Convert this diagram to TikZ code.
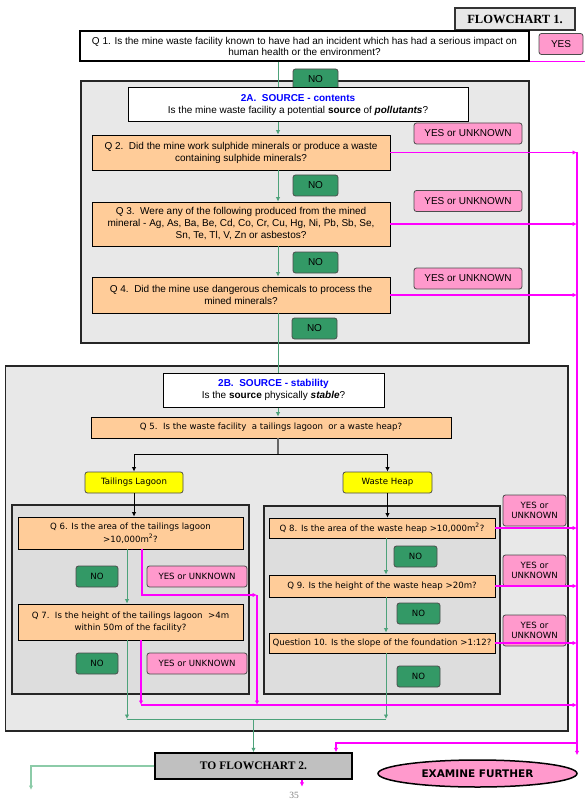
\documentclass[tikz,border=0pt]{standalone}
\usepackage{fontspec}
\setmainfont{Liberation Sans}
\newfontfamily\tahoma{DejaVu Sans}
\newfontfamily\tnr{Liberation Serif}
\usetikzlibrary{arrows.meta,shapes.geometric}
\definecolor{secgray}{HTML}{E8E8E8}
\definecolor{subgray}{HTML}{DDDDDD}
\definecolor{qorange}{HTML}{FFCC99}
\definecolor{ypink}{HTML}{FF99CC}
\definecolor{nogreen}{HTML}{339966}
\definecolor{gline}{HTML}{4DA27A}
\definecolor{lgline}{HTML}{8CCBA8}
\definecolor{fcgray}{HTML}{C0C0C0}
\definecolor{hotmag}{RGB}{255,0,255}
\definecolor{lemon}{RGB}{255,255,0}
\definecolor{titleblue}{RGB}{0,0,255}
\newcommand{\tobus}[1]{\draw[mag,->] (#1.east) -- (#1.east -| bus);}
\newcommand{\godown}[3]{\draw[go,->] (#1.south -| #3) -- (#2.north -| #3);}

\begin{document}
\begin{tikzpicture}[x=1pt,y=-1pt,>={Latex[length=4.5pt,width=4.5pt]},
  every node/.style={align=center,inner sep=0pt,font=\fontsize{10}{12}\selectfont},
  sect/.style={draw=black!85,fill=secgray,line width=1.6pt},
  subsect/.style={draw=black!85,fill=subgray,line width=1.6pt},
  head/.style={draw=black,fill=white,line width=1pt},
  ques/.style={draw=black,fill=qorange,line width=0.8pt},
  nobox/.style={draw=black!70,fill=nogreen,rounded corners=2.5pt,line width=0.8pt,minimum width=45pt,minimum height=21pt},
  yubox/.style={draw=black!70,fill=ypink,rounded corners=2.5pt,line width=0.8pt,minimum width=108pt,minimum height=21pt},
  choice/.style={draw=black!70,fill=lemon,rounded corners=2.5pt,line width=0.8pt,minimum height=21pt},
  go/.style={draw=gline,line width=1pt},
  mag/.style={draw=hotmag,line width=1.2pt}]
  \useasboundingbox (0,0) rectangle (585,802);
  \draw[sect] (81,81) rectangle (529,343);
  \draw[sect] (5.6,366) rectangle (568,731);
  \draw[subsect] (12,505) rectangle (249,694);
  \draw[subsect] (264,506) rectangle (500,694);
  \coordinate (spine) at (278,0);
  \coordinate (bus) at (577,0);
  \coordinate (rim) at (585,0);
  \coordinate (lcol) at (127,719);
  \coordinate (rcol) at (386,719);
  \coordinate (fork) at (278,454);
  \coordinate (lane) at (257,595);
  \coordinate (low) at (141,705);
  \coordinate (out) at (31,790);

  \node[draw=black!80,fill=secgray,line width=1.5pt,minimum width=120pt,minimum height=22pt,font=\tnr\bfseries\fontsize{12.5}{14}\selectfont] (fc1) at (515,19) {FLOWCHART 1.};
  \node[head,line width=1.6pt,minimum width=449pt,minimum height=30pt,font=\fontsize{10}{11}\selectfont] (q1) at (304.5,46) {Q 1. Is the mine waste facility known to have had an incident which has had a serious impact on\\human health or the environment?};
  \node[yubox,minimum width=44pt] (yes) at (561,44) {YES};
  \node[nobox] (no1) at (315.5,79.5) {NO};
  \node[head,minimum width=340pt,minimum height=34pt] (srcA) at (298,105) {{\color{titleblue}\bfseries 2A.\ \ SOURCE - contents}\\Is the mine waste facility a potential \textbf{source} of \textbf{\textit{pollutants}}?};
  \node[ques,minimum width=298pt,minimum height=35pt] (q2) at (241,152.5) {Q 2.\ \ Did the mine work sulphide minerals or produce a waste\\containing sulphide minerals?};
  \node[yubox] (yu2) at (468,133.5) {YES or UNKNOWN};
  \node[nobox] (no2) at (315.5,185.5) {NO};
  \node[ques,minimum width=298pt,minimum height=44pt] (q3) at (241,224) {Q 3.\ \ Were any of the following produced from the mined\\mineral - Ag, As, Ba, Be, Cd, Co, Cr, Cu, Hg, Ni, Pb, Sb, Se,\\Sn, Te, Tl, V, Zn or asbestos?};
  \node[yubox] (yu3) at (468,201) {YES or UNKNOWN};
  \node[nobox] (no3) at (315.5,262.5) {NO};
  \node[ques,minimum width=298pt,minimum height=36pt] (q4) at (241,295) {Q 4.\ \ Did the mine use dangerous chemicals to process the\\mined minerals?};
  \node[yubox] (yu4) at (468,278.5) {YES or UNKNOWN};
  \node[nobox] (no4) at (314.5,328.5) {NO};
  \node[head,minimum width=221pt,minimum height=34pt] (srcB) at (273.5,390) {{\color{titleblue}\bfseries 2B.\ \ SOURCE - stability}\\Is the \textbf{source} physically \textbf{\textit{stable}}?};

  \begin{scope}[every node/.append style={font=\tahoma\fontsize{8.6}{12.5}\selectfont}]
  \node[ques,minimum width=360pt,minimum height=21pt] (q5) at (271,427.5) {Q 5.\ \ Is the waste facility\ \ a tailings lagoon\ \ or a waste heap?};
  \node[choice,minimum width=98pt] (lag) at (134,482.5) {Tailings Lagoon};
  \node[choice,minimum width=89pt] (heap) at (387.5,482.5) {Waste Heap};
  \node[ques,minimum width=225pt,minimum height=32pt] (q6) at (130.5,533) {Q 6. Is the area of the tailings lagoon\\>10,000m\textsuperscript{2}?};
  \node[nobox,minimum width=42pt] (no6) at (97,576.5) {NO};
  \node[yubox,minimum width=100pt] (yu6) at (197,576.5) {YES or UNKNOWN};
  \node[ques,minimum width=225pt,minimum height=36pt] (q7) at (130.5,622) {Q 7.\ \ Is the height of the tailings lagoon\ \ >4m\\within 50m of the facility?};
  \node[nobox,minimum width=42pt] (no7) at (97,663.5) {NO};
  \node[yubox,minimum width=100pt] (yu7) at (197,663.5) {YES or UNKNOWN};
  \node[ques,minimum width=226pt,minimum height=20pt] (q8) at (382,528) {Q 8. Is the area of the waste heap >10,000m\textsuperscript{2}?};
  \node[nobox,minimum width=43pt] (no8) at (415.5,556.5) {NO};
  \node[ques,minimum width=226pt,minimum height=22pt] (q9) at (382,586) {Q 9. Is the height of the waste heap >20m?};
  \node[nobox,minimum width=43pt] (no9) at (418.5,613.5) {NO};
  \node[ques,minimum width=226pt,minimum height=20pt] (q10) at (382,643) {Question 10. Is the slope of the foundation >1:12?};
  \node[nobox,minimum width=43pt] (no10) at (418.5,676.5) {NO};
  \node[yubox,minimum width=63pt,minimum height=31pt,font=\tahoma\fontsize{8.6}{10}\selectfont] (yu8) at (534.5,510.5) {YES or\\UNKNOWN};
  \node[yubox,minimum width=63pt,minimum height=31pt,font=\tahoma\fontsize{8.6}{10}\selectfont] (yu9) at (534.5,570.5) {YES or\\UNKNOWN};
  \node[yubox,minimum width=63pt,minimum height=31pt,font=\tahoma\fontsize{8.6}{10}\selectfont] (yu10) at (534.5,630.5) {YES or\\UNKNOWN};
  \end{scope}

  \node[draw,fill=fcgray,line width=1.5pt,minimum width=197pt,minimum height=26pt,font=\tnr\bfseries\fontsize{11.5}{13}\selectfont] (fc2) at (253.5,766) {TO FLOWCHART 2.};
  \node[ellipse,draw,fill=ypink,line width=1.5pt,minimum width=199pt,minimum height=27pt,font=\tahoma\bfseries\fontsize{10.5}{12}\selectfont] (exam) at (477.5,773.5) {EXAMINE FURTHER};
  \node[text=gray,font=\tnr\fontsize{9.5}{10}\selectfont] (page) at (294,795) {35};

  \draw[go] (q1.south -| spine) -- (srcA.north -| spine);
  \godown{srcA}{q2}{spine}
  \godown{q2}{q3}{spine}
  \godown{q3}{q4}{spine}
  \draw[go] (q4.south -| spine) -- (srcB.north -| spine);
  \godown{srcB}{q5}{spine}
  \draw[black!60,line width=1.2pt] (q5.south -| spine) -- (fork);
  \draw[->,line width=1pt] (fork) -| (lag.north);
  \draw[->,line width=1pt] (fork) -| (heap.north);
  \draw[->,line width=1pt] (lag.south) -- (lag.south |- q6.north);
  \draw[->,line width=1pt] (heap.south) -- (heap.south |- q8.north);
  \godown{q6}{q7}{lcol}
  \draw[go,->] (q7.south -| lcol) -- (lcol);
  \godown{q8}{q9}{rcol}
  \godown{q9}{q10}{rcol}
  \draw[go,->] (q10.south -| rcol) -- (rcol);
  \draw[go] (lcol) -- (rcol);
  \draw[go,->] (lcol -| fc2.north) -- (fc2.north);
  \draw[draw=lgline,line width=1.4pt,->] (fc2.west) -| (out);

  \draw[mag] (q1.south east) -- (q1.south east -| rim);
  \tobus{q2}
  \tobus{q3}
  \tobus{q4}
  \tobus{q8}
  \tobus{q9}
  \tobus{q10}
  \draw[mag,->] ([xshift=11.5pt]q6.south) |- (lane);
  \draw[mag,->] (lane) -- (lane |- low);
  \draw[mag,->] (q7.south -| low) -- (low);
  \draw[mag,->] (low) -- (low -| bus);
  \draw[mag,->] (bus |- q2.east) -- ([yshift=-3pt]bus |- fc2.north);
  \draw[mag,->] (bus |- 0,743) -| ([xshift=82.5pt]fc2.north);
  \draw[mag,->] ([xshift=48.5pt]fc2.south) -- ++(0,7);
\end{tikzpicture}
\end{document}
